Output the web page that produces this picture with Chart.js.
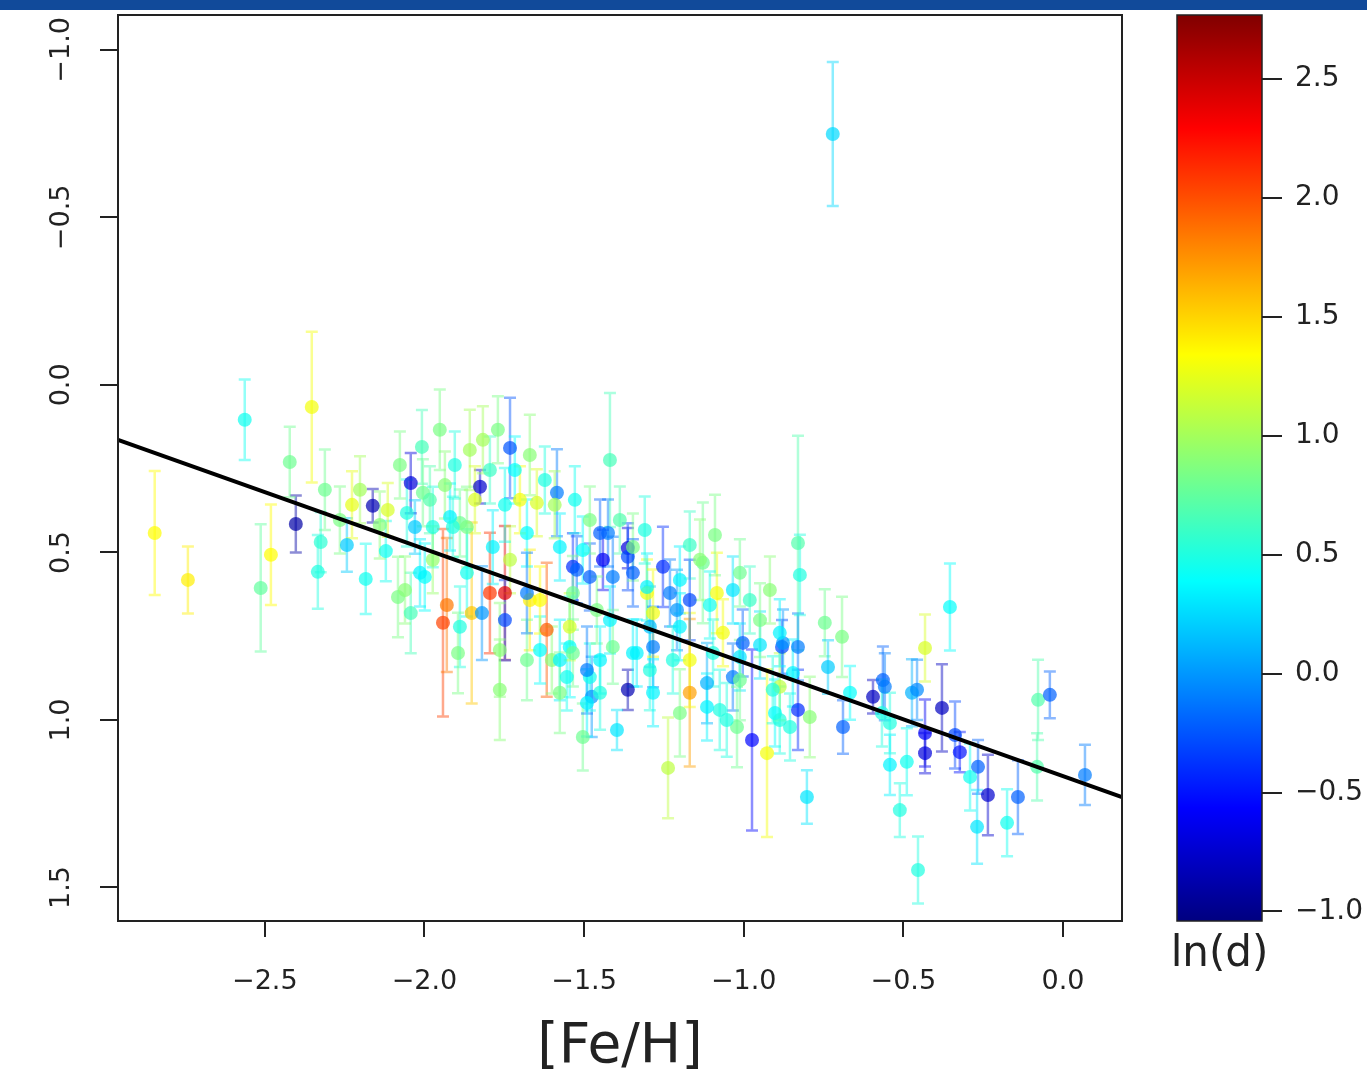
<!DOCTYPE html>
<html>
<head>
<meta charset="utf-8">
<script src="https://cdn.jsdelivr.net/npm/chart.js@4.4.0/dist/chart.umd.min.js"></script>
<style>
  body { margin: 0; background: #fff; width: 1367px; height: 1081px; overflow: hidden; position: relative; }
  #band { position: absolute; left: 0; top: 0; width: 1367px; height: 10px; background: #114a9a; z-index: 2; }
  #main { position: absolute; left: 0; top: 0; }
  #cbar { position: absolute; left: 1150px; top: 0; }
</style>
</head>
<body>
<div id="band"></div>
<canvas id="main" width="1150" height="1081"></canvas>
<canvas id="cbar" width="217" height="1081"></canvas>
<script>
// [Fe/H] of each star
var feH = [
  -2.845, -2.563, -2.513, -2.481, -2.403, -2.422, -2.353, -2.325, -2.334, -2.312,
  -2.243, -2.184, -2.162, -2.121, -2.083, -2.043, -2.043, -2.115, -2.741, -2.008,
  -2.030, -2.061, -2.005, -1.999, -1.942, -1.930, -1.889, -1.889, -1.852, -1.826,
  -1.817, -1.795, -1.820, -1.770, -1.732, -1.748, -1.748, -1.764, -1.764, -1.670,
  -1.648, -1.617, -1.585, -1.535, -1.545, -1.554, -1.601, -1.679, -1.867, -1.920,
  -1.974, -1.974, -1.867, -1.679, -1.638, -1.701, -1.983, -1.419, -1.425, -1.441,
  -1.363, -1.363, -1.523, -1.363, -1.397, -1.253, -1.231, -1.209, -1.128, -1.034,
  -1.034, -1.115, -1.075, -1.169, -0.974, -1.021, -1.476, -1.482, -1.504, -1.335,
  -1.294, -1.294, -1.237, -1.003, -1.303, -1.460, -1.545, -1.419, -1.200, -1.065,
  -0.830, -1.012, -0.949, -0.880, -0.830, -0.927, -0.902, -0.887, -0.855, -0.830,
  -0.802, -0.793, -0.746, -0.736, -0.692, -0.689, -0.667, -0.595, -0.564, -0.354,
  -0.432, -0.558, -0.473, -0.457, -0.379, -0.542, -0.432, -0.432, -0.338, -0.323,
  -0.542, -0.489, -0.266, -0.291, -0.235, -0.141, -0.269, -0.175, -0.511, -0.454,
  -0.078, -0.041, -0.081, 0.069, -0.567, -0.721, -2.055, -1.895, -1.504, -1.450,
  -1.347, -1.137, -0.877, -2.014, -1.911, -1.786, -1.732, -1.679, -1.638, -1.576,
  -1.535, -1.482, -1.410, -1.347, -1.303, -1.284, -1.200, -1.084, -1.012, -0.949,
  -0.887, -1.576, -1.535, -1.491, -1.450, -1.410, -1.347, -1.284, -1.222, -1.169,
  -1.096, -1.012, -0.909, -0.846, -1.450, -1.491, -1.576, -1.284, -1.200, -1.115,
  -1.053, -0.887, -1.952, -1.905, -1.858, -1.795, -1.717, -1.670, -1.623, -1.592,
  -1.529, -1.482, -1.748, -1.842, -1.936, -2.077, -2.202, -2.265, -1.388, -1.310,
  -1.169, -1.090, -1.169, -1.106, -0.981, -0.918, -0.824, -2.227, -2.140
];

// y value (reversed axis)
var yVal = [
  0.442, 0.104, 0.606, 0.507, 0.415, 0.230, 0.066, 0.469, 0.558, 0.313,
  0.478, 0.579, 0.361, 0.496, 0.633, 0.293, 0.681, 0.373, 0.582, 0.185,
  0.424, 0.612, 0.322, 0.573, 0.710, 0.657, 0.412, 0.722, 0.681, 0.304,
  0.164, 0.621, 0.681, 0.134, 0.188, 0.621, 0.702, 0.791, 0.910, 0.642,
  0.352, 0.731, 0.322, 0.543, 0.782, 0.872, 0.821, 0.442, 0.424, 0.394,
  0.424, 0.522, 0.561, 0.821, 0.791, 0.343, 0.343, 0.224, 0.442, 0.522,
  0.487, 0.513, 0.552, 0.910, 1.030, 0.543, 0.621, 0.672, 0.531, 0.612,
  0.872, 0.890, 0.970, 0.919, 1.060, 1.021, 0.931, 0.872, 1.051, 0.800,
  0.851, 0.722, 1.143, 0.770, 0.621, 0.672, 0.722, 0.702, 0.722, 0.740,
  0.472, 0.812, 0.776, 0.782, 0.782, 1.099, 0.979, 0.901, 1.021, 0.970,
  1.230, 0.991, 0.710, 0.842, 0.752, 1.021, 0.919, 0.931, 0.881, 0.663,
  0.785, 0.901, 0.919, 0.910, 0.964, 1.009, 1.039, 1.099, 1.045, 1.096,
  1.134, 1.125, 1.140, 1.170, 1.224, 1.230, 1.319, 1.307, 1.269, 1.448,
  0.940, 0.925, 1.140, 1.164, 0.979, -0.749, 0.382, 0.800, 0.493, 0.442,
  0.484, 0.522, 0.770, 0.561, 0.424, 0.484, 0.522, 0.621, 0.642, 0.484,
  0.621, 0.573, 0.573, 0.561, 0.603, 0.681, 0.582, 0.621, 0.561, 0.702,
  0.740, 0.821, 0.800, 0.851, 0.821, 0.782, 0.800, 0.782, 0.821, 0.821,
  0.800, 0.881, 0.910, 0.860, 0.919, 0.949, 0.919, 0.919, 0.979, 0.961,
  1.000, 1.000, 0.134, 0.239, 0.194, 0.254, 0.254, 0.209, 0.284, 0.358,
  0.343, 0.403, 0.358, 0.343, 0.299, 0.239, 0.313, 0.403, 0.403, 0.433,
  0.478, 0.448, 0.642, 0.657, 0.642, 0.612, 0.567, 0.358, 0.418
];

// half length of the error bars
var yErr = [
  0.185, 0.12, 0.19, 0.15, 0.085, 0.105, 0.225, 0.09, 0.11, 0.12,
  0.08, 0.105, 0.05, 0.09, 0.12, 0.09, 0.12, 0.08, 0.1, 0.11,
  0.08, 0.1, 0.1, 0.1, 0.28, 0.2, 0.1, 0.12, 0.27, 0.05,
  0.1, 0.18, 0.14, 0.1, 0.15, 0.2, 0.12, 0.14, 0.15, 0.15,
  0.1, 0.2, 0.13, 0.1, 0.15, 0.1, 0.1, 0.1, 0.12, 0.1,
  0.12, 0.1, 0.13, 0.12, 0.1, 0.1, 0.1, 0.2, 0.1, 0.09,
  0.06, 0.1, 0.1, 0.06, 0.06, 0.12, 0.1, 0.12, 0.18, 0.1,
  0.1, 0.12, 0.12, 0.22, 0.27, 0.12, 0.12, 0.1, 0.1, 0.1,
  0.12, 0.12, 0.15, 0.1, 0.1, 0.1, 0.1, 0.1, 0.1, 0.1,
  0.32, 0.1, 0.1, 0.08, 0.1, 0.25, 0.1, 0.1, 0.1, 0.12,
  0.08, 0.12, 0.1, 0.08, 0.12, 0.08, 0.08, 0.05, 0.1, 0.13,
  0.1, 0.1, 0.1, 0.09, 0.13, 0.09, 0.1, 0.06, 0.1, 0.06,
  0.09, 0.1, 0.08, 0.1, 0.12, 0.11, 0.11, 0.1, 0.08, 0.1,
  0.12, 0.07, 0.1, 0.09, 0.1, 0.215, 0.1, 0.12, 0.1, 0.1,
  0.1, 0.12, 0.1, 0.1, 0.09, 0.11, 0.1, 0.12, 0.1, 0.1,
  0.11, 0.1, 0.12, 0.1, 0.1, 0.13, 0.1, 0.12, 0.1, 0.11,
  0.1, 0.12, 0.1, 0.13, 0.1, 0.11, 0.1, 0.12, 0.1, 0.14,
  0.1, 0.12, 0.1, 0.1, 0.11, 0.1, 0.12, 0.1, 0.13, 0.1,
  0.11, 0.1, 0.12, 0.1, 0.12, 0.1, 0.1, 0.12, 0.1, 0.1,
  0.1, 0.1, 0.11, 0.1, 0.1, 0.1, 0.1, 0.1, 0.1, 0.1,
  0.1, 0.12, 0.12, 0.1, 0.1, 0.1, 0.12, 0.1, 0.1
];

// ln(d), drives the colour
var lnD = [
  1.35, 0.45, 0.75, 1.35, -0.9, 0.8, 1.3, 0.55, 0.5, 0.8,
  0.2, 0.45, -0.85, 0.45, 0.85, -0.7, 0.65, 1.2, 1.4, 0.65,
  0.2, 0.9, 0.8, 0.4, 2.05, 1.85, 0.8, 0.5, 1.55, -0.75,
  1.0, 2.1, 0.0, 0.85, -0.25, 2.4, -0.3, 0.9, 0.9, 1.4,
  1.2, 1.95, -0.1, -0.4, 0.4, 0.45, 0.9, 0.4, 0.85, 0.35,
  0.5, 0.95, 0.45, 0.8, 0.4, 1.3, 0.7, 0.65, -0.1, -0.6,
  -0.7, -0.3, -0.2, -0.85, 0.3, -0.4, -0.1, 0.0, 0.8, 0.3,
  -0.1, 0.1, 0.5, 1.7, -0.55, 0.8, 0.0, 0.45, 0.8, 0.35,
  0.5, 0.15, 1.1, -0.2, 1.3, 0.85, 1.2, 0.35, 0.35, 1.3,
  0.7, 0.3, 0.3, -0.3, -0.1, 1.3, 0.4, 1.1, 0.5, -0.4,
  0.3, 0.9, 0.8, 0.2, 0.85, -0.2, 0.4, -0.8, -0.2, 0.4,
  1.2, -0.1, 0.1, -0.05, -0.8, 0.5, -0.6, -0.7, -0.3, -0.5,
  0.35, 0.45, -0.2, 0.45, -0.75, -0.2, 0.3, 0.45, 0.5, 0.5,
  0.7, -0.2, 0.7, -0.1, 0.5, 0.25, 0.5, 0.85, 0.4, -0.2,
  0.85, 0.9, 0.0, 0.35, 0.5, 0.35, 1.1, -0.1, 1.35, 0.35,
  0.8, -0.2, -0.1, -0.2, 0.35, 1.3, 0.35, 1.3, 0.8, 0.85,
  0.35, 0.35, 0.8, -0.1, 0.35, 0.8, 0.35, -0.1, 0.5, 1.3,
  0.5, 0.8, 0.5, 0.35, 0.5, 0.35, 0.85, 0.35, 0.85, 0.35,
  0.5, 0.5, 0.85, 0.5, 1.0, 0.6, 0.4, 0.9, 0.5, 1.0,
  0.45, 0.85, 0.45, 1.2, 0.9, 0.85, 1.0, 0.85, 0.7, 0.5,
  0.6, 0.85, -0.3, 0.45, 0.6, 0.9, 0.5, 1.25, 0.9
];

// fitted line, end points
var fitX = [-2.96, 0.185];
var fitY = [0.164, 1.23];

// axis ranges and ticks
var xRange = [-2.96, 0.185];
var yRange = [-1.104, 1.6];
var cbRange = [-1.04, 2.77];
var xTicks = [-2.5, -2.0, -1.5, -1.0, -0.5, 0.0];
var yTicks = [-1.0, -0.5, 0.0, 0.5, 1.0, 1.5];
var cbTicks = [-1.0, -0.5, 0.0, 0.5, 1.0, 1.5, 2.0, 2.5];

var FONT = 'DejaVu Sans';
var INK = '#222';

// jet colour map, like the one of the colour bar
function jet(v, alpha) {
  var t = (v - cbRange[0]) / (cbRange[1] - cbRange[0]);
  function c(x) { return Math.round(255 * Math.max(0, Math.min(1, x))); }
  var r = c(1.5 - Math.abs(4 * t - 3));
  var g = c(1.5 - Math.abs(4 * t - 2));
  var b = c(1.5 - Math.abs(4 * t - 1));
  return 'rgba(' + r + ',' + g + ',' + b + ',' + alpha + ')';
}

// minus sign as in the figure
function fmt(v) {
  return (v < 0 ? '\u2212' : '') + Math.abs(v).toFixed(1);
}

// Error bars, drawn under the points
var errorBars = {
  id: 'errorBars',
  beforeDatasetsDraw: function(chart) {
    var ctx = chart.ctx;
    var x = chart.scales.x, y = chart.scales.y;
    ctx.save();
    ctx.lineWidth = 2.5;
    for (var i = 0; i < feH.length; i++) {
      var px = x.getPixelForValue(feH[i]);
      var top = y.getPixelForValue(yVal[i] - yErr[i]);
      var bot = y.getPixelForValue(yVal[i] + yErr[i]);
      ctx.strokeStyle = jet(lnD[i], 0.45);
      ctx.beginPath();
      ctx.moveTo(px, top); ctx.lineTo(px, bot);
      ctx.moveTo(px - 6, top); ctx.lineTo(px + 6, top);
      ctx.moveTo(px - 6, bot); ctx.lineTo(px + 6, bot);
      ctx.stroke();
    }
    ctx.restore();
  }
};

// Box round the plot
var frame = {
  id: 'frame',
  afterDraw: function(chart) {
    var a = chart.chartArea, ctx = chart.ctx;
    ctx.save();
    ctx.strokeStyle = INK;
    ctx.lineWidth = 2;
    ctx.strokeRect(a.left, a.top, a.right - a.left, a.bottom - a.top);
    ctx.restore();
  }
};

var points = feH.map(function(v, i) { return { x: v, y: yVal[i] }; });
var fitLine = fitX.map(function(v, i) { return { x: v, y: fitY[i] }; });

new Chart(document.getElementById('main'), {
  type: 'scatter',
  data: {
    datasets: [
      {
        type: 'line',
        data: fitLine,
        borderColor: '#000',
        borderWidth: 4,
        pointRadius: 0,
        fill: false,
        order: 0
      },
      {
        data: points,
        backgroundColor: lnD.map(function(v) { return jet(v, 0.7); }),
        borderWidth: 0,
        pointRadius: 7,
        order: 1
      }
    ]
  },
  options: {
    responsive: false,
    animation: false,
    events: [],
    layout: { padding: { top: 15, right: 28, left: 0, bottom: 0 } },
    plugins: { legend: { display: false }, tooltip: { enabled: false } },
    scales: {
      x: {
        type: 'linear',
        min: xRange[0],
        max: xRange[1],
        afterBuildTicks: function(s) { s.ticks = xTicks.map(function(v) { return { value: v }; }); },
        afterFit: function(s) { s.height = 160; s.paddingLeft = 0; s.paddingRight = 0; },
        grid: { drawOnChartArea: false, drawTicks: true, tickLength: 16, color: INK, lineWidth: 2 },
        border: { display: false },
        ticks: { font: { family: FONT, size: 27 }, color: INK, padding: 29, maxRotation: 0, callback: fmt },
        title: { display: true, text: '[Fe/H]', font: { family: FONT, size: 55 }, color: INK, padding: 0 }
      },
      y: {
        type: 'linear',
        reverse: true,
        min: yRange[0],
        max: yRange[1],
        afterBuildTicks: function(s) { s.ticks = yTicks.map(function(v) { return { value: v }; }); },
        afterFit: function(s) { s.width = 118; s.paddingTop = 0; s.paddingBottom = 0; },
        grid: { drawOnChartArea: false, drawTicks: true, tickLength: 18, color: INK, lineWidth: 2 },
        border: { display: false },
        ticks: { font: { family: FONT, size: 27 }, color: INK, padding: 5, minRotation: 90, maxRotation: 90, crossAlign: 'center', callback: fmt }
      }
    }
  },
  plugins: [errorBars, frame]
});

// Colour bar: gradient painted against its own y scale, label under it
var colorRamp = {
  id: 'colorRamp',
  beforeDatasetsDraw: function(chart) {
    var ctx = chart.ctx, a = chart.chartArea, y = chart.scales.y;
    var y0 = y.getPixelForValue(cbRange[0]), y1 = y.getPixelForValue(cbRange[1]);
    var g = ctx.createLinearGradient(0, y0, 0, y1);
    for (var k = 0; k <= 40; k++) {
      g.addColorStop(k / 40, jet(cbRange[0] + k / 40 * (cbRange[1] - cbRange[0]), 1));
    }
    ctx.save();
    ctx.fillStyle = g;
    ctx.fillRect(a.left, a.top, a.right - a.left, a.bottom - a.top);
    ctx.strokeStyle = INK;
    ctx.lineWidth = 1.5;
    ctx.strokeRect(a.left, a.top, a.right - a.left, a.bottom - a.top);
    ctx.restore();
  },
  afterDraw: function(chart) {
    var ctx = chart.ctx, a = chart.chartArea;
    ctx.save();
    ctx.font = '42px "' + FONT + '"';
    ctx.fillStyle = INK;
    ctx.textAlign = 'center';
    ctx.textBaseline = 'middle';
    ctx.fillText('ln(d)', (a.left + a.right) / 2, a.bottom + 34);
    ctx.restore();
  }
};

new Chart(document.getElementById('cbar'), {
  type: 'scatter',
  data: { datasets: [{ data: [] }] },
  options: {
    responsive: false,
    animation: false,
    events: [],
    layout: { padding: { top: 15, left: 27, right: 0, bottom: 0 } },
    plugins: { legend: { display: false }, tooltip: { enabled: false } },
    scales: {
      x: {
        type: 'linear',
        min: 0,
        max: 1,
        afterFit: function(s) { s.height = 160; s.paddingLeft = 0; s.paddingRight = 0; },
        ticks: { display: false },
        grid: { display: false },
        border: { display: false }
      },
      y: {
        type: 'linear',
        position: 'right',
        min: cbRange[0],
        max: cbRange[1],
        afterBuildTicks: function(s) { s.ticks = cbTicks.map(function(v) { return { value: v }; }); },
        afterFit: function(s) { s.width = 105; s.paddingTop = 0; s.paddingBottom = 0; },
        grid: { drawOnChartArea: false, drawTicks: true, tickLength: 20, color: INK, lineWidth: 2 },
        border: { display: false },
        ticks: { font: { family: FONT, size: 28 }, color: INK, padding: 13, callback: fmt }
      }
    }
  },
  plugins: [colorRamp]
});
</script>
</body>
</html>
